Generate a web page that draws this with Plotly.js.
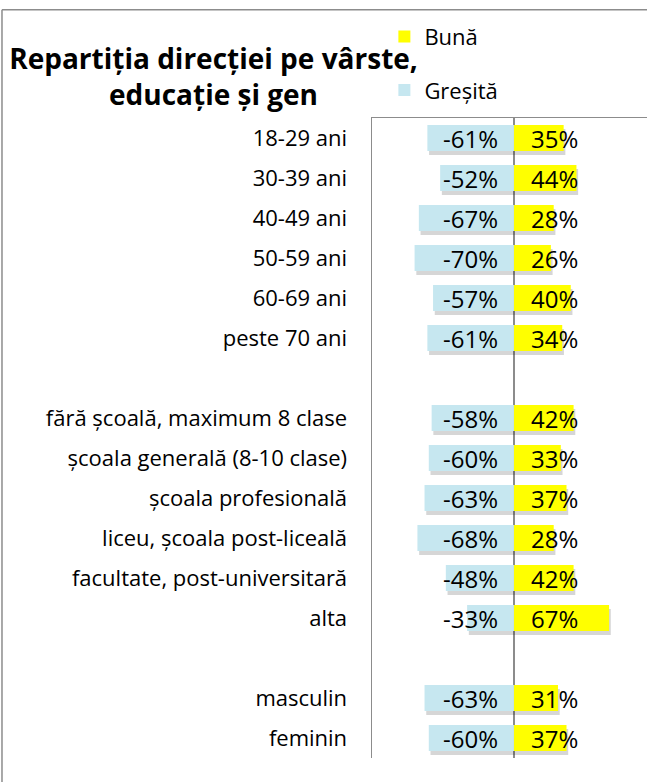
<!DOCTYPE html>
<html>
<head>
<meta charset="utf-8">
<script src="https://cdn.plot.ly/plotly-3.0.1.min.js"></script>
<style>
  body { margin: 0; background: #fff; }
  #chart { width: 647px; height: 782px; }
</style>
</head>
<body>
<div id="chart"></div>
<script>
// rows top to bottom, blanks separate the three groups
const categories = [
    '18-29 ani', '30-39 ani', '40-49 ani', '50-59 ani', '60-69 ani', 'peste 70 ani',
    ' ',
    'fără școală, maximum 8 clase', 'școala generală (8-10 clase)', 'școala profesională',
    'liceu, școala post-liceală', 'facultate, post-universitară', 'alta',
    '  ',
    'masculin', 'feminin'
];
const buna = [35, 44, 28, 26, 40, 34, null, 42, 33, 37, 28, 42, 67, null, 31, 37];
const gresita = [-61, -52, -67, -70, -57, -61, null, -58, -60, -63, -68, -48, -33, null, -63, -60];

const seriesNames = ['Bună', 'Greșită'];
const colors = ['#ffff00', '#c6e7f0'];

const font = 'Open Sans, sans-serif';
const barWidth = 0.65;
const frameColor = '#8c8c8c';

function shadowTrace(values) {
    return {
        type: 'bar',
        orientation: 'h',
        y: categories,
        x: values,
        base: 1.2,
        width: barWidth,
        offset: -barWidth / 2 + 0.1,
        marker: { color: 'rgba(0,0,0,0.16)' },
        showlegend: false,
        hoverinfo: 'skip'
    };
}

const traces = [
    shadowTrace(gresita),
    shadowTrace(buna),
    {
        type: 'bar',
        orientation: 'h',
        name: seriesNames[1],
        legendgroup: 'g',
        legendrank: 2,
        y: categories,
        x: gresita,
        width: barWidth,
        offset: -barWidth / 2,
        marker: { color: colors[1] }
    },
    {
        type: 'bar',
        orientation: 'h',
        name: seriesNames[0],
        legendgroup: 'b',
        legendrank: 1,
        y: categories,
        x: buna,
        width: barWidth,
        offset: -barWidth / 2,
        marker: { color: colors[0] }
    }
];

// value labels sit at the base of each bar, like the Excel original
const annotations = [];
categories.forEach((cat, i) => {
    if (gresita[i] !== null) {
        annotations.push({
            x: 0, y: cat, xref: 'x', yref: 'y',
            text: gresita[i] + '%', showarrow: false,
            xanchor: 'right', xshift: -14,
            font: { family: font, size: 24, color: '#000' }
        });
    }
    if (buna[i] !== null) {
        annotations.push({
            x: 0, y: cat, xref: 'x', yref: 'y',
            text: buna[i] + '%', showarrow: false,
            xanchor: 'left', xshift: 15,
            font: { family: font, size: 24, color: '#000' }
        });
    }
});

const layout = {
    width: 647,
    height: 782,
    margin: { l: 372, r: 0, t: 118, b: 24 },
    paper_bgcolor: '#fff',
    plot_bgcolor: '#fff',
    barmode: 'overlay',
    font: { family: font, size: 21, color: '#000' },
    title: {
        text: '<b>Repartiția direcției pe vârste,<br>educație și gen</b>',
        font: { family: font, size: 28, color: '#000' },
        xref: 'container', x: 0.33, xanchor: 'center',
        yref: 'container', y: 0.912, yanchor: 'top'
    },
    xaxis: {
        range: [-100, 93.7],
        side: 'top',
        showline: true,
        linecolor: frameColor,
        linewidth: 1.5,
        showgrid: false,
        showticklabels: false,
        zeroline: true,
        zerolinecolor: frameColor,
        zerolinewidth: 1.5,
        layer: 'above traces',
        fixedrange: true
    },
    yaxis: {
        type: 'category',
        autorange: 'reversed',
        showline: true,
        linecolor: frameColor,
        linewidth: 1.5,
        showgrid: false,
        ticks: '',
        ticklabelstandoff: 19,
        tickfont: { family: font, size: 22, color: '#000' },
        fixedrange: true
    },
    legend: {
        x: 0.045, xanchor: 'left',
        y: 1.16, yanchor: 'top',
        traceorder: 'grouped',
        tracegroupgap: 22,
        bgcolor: 'rgba(0,0,0,0)',
        font: { family: font, size: 22, color: '#000' }
    },
    // outer chart frame (top and left edges, the rest is cropped)
    shapes: [
        {
            type: 'line', xref: 'paper', yref: 'paper',
            x0: -1.3455, x1: 1, y0: 1.169, y1: 1.169,
            line: { color: frameColor, width: 1.5 }
        },
        {
            type: 'line', xref: 'paper', yref: 'paper',
            x0: -1.3455, x1: -1.3455, y0: -0.0375, y1: 1.169,
            line: { color: frameColor, width: 1.5 }
        }
    ],
    annotations: annotations
};

Plotly.newPlot('chart', traces, layout, { displayModeBar: false, staticPlot: true });
</script>
</body>
</html>
